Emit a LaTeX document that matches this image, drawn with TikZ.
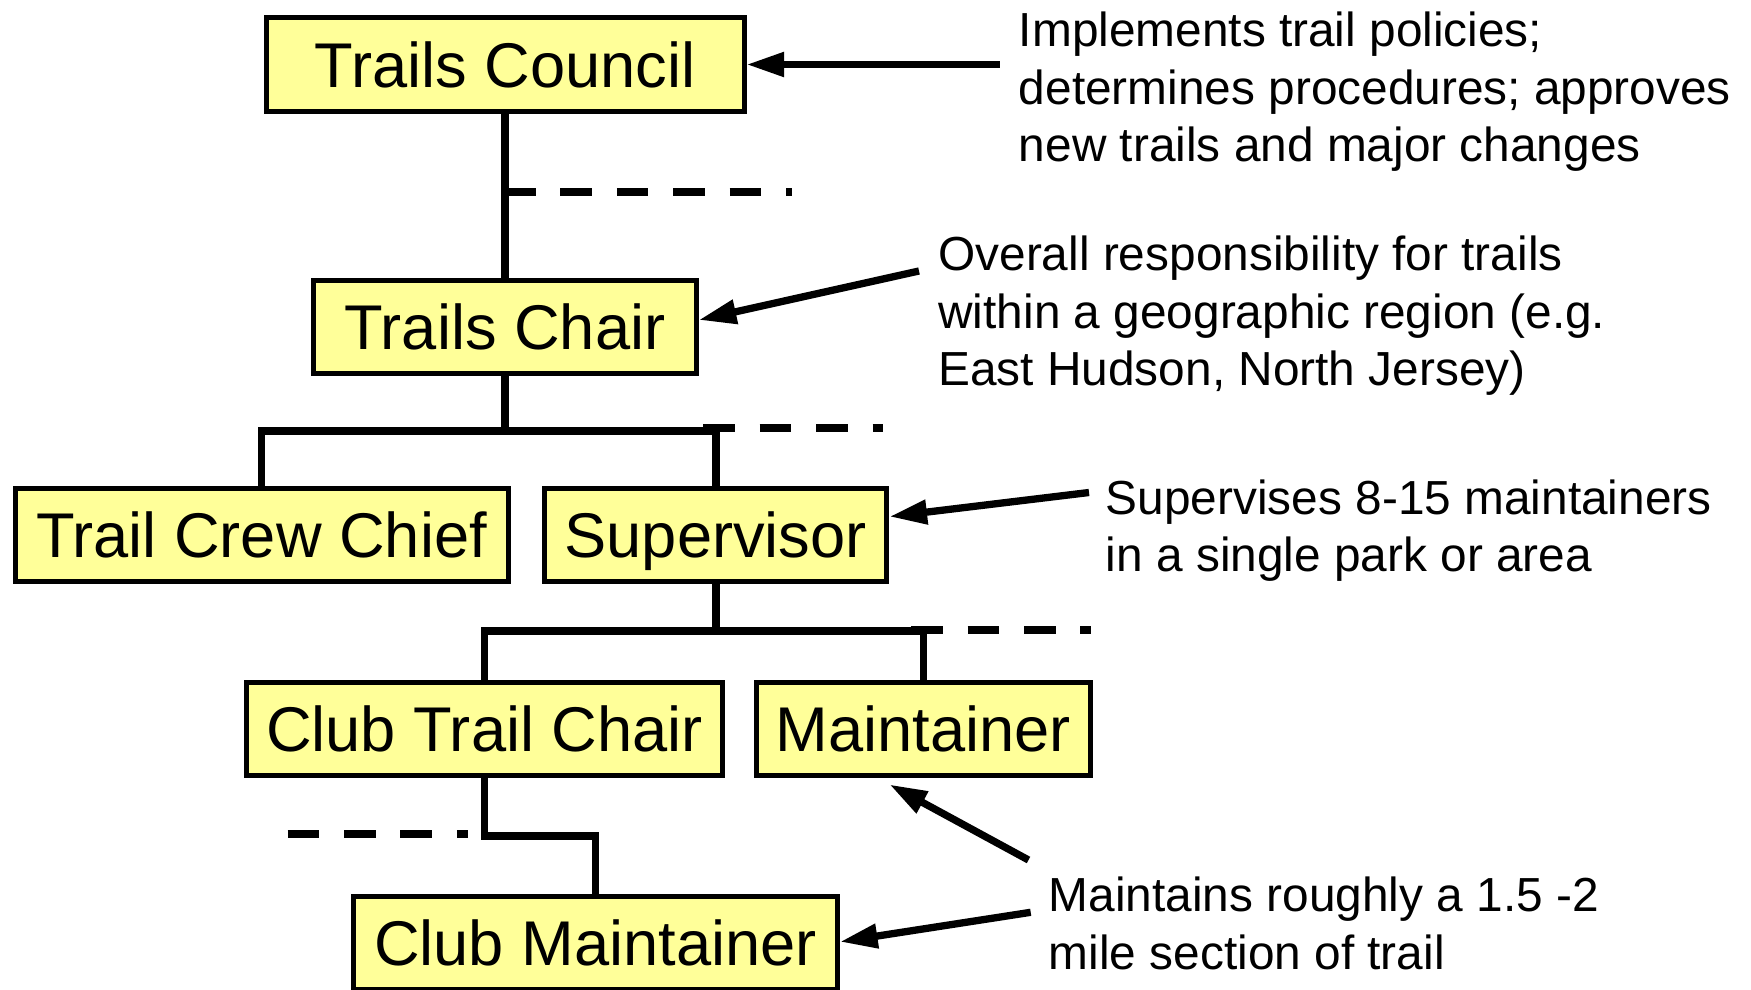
\documentclass[tikz,border=0pt]{standalone}
\usepackage{fontspec}
\setmainfont{Liberation Sans}
\usetikzlibrary{arrows.meta}
\definecolor{boxfill}{HTML}{FFFF99}
\newcommand{\boxfont}{\fontsize{31.6}{38}\selectfont}
\newcommand{\annfont}{\fontsize{23.9}{28.75}\selectfont}
\tikzset{
  orgbox/.style={draw=black, fill=boxfill, line width=2.5pt, inner sep=0pt,
    font=\boxfont, text height=22.6pt, text depth=0pt, minimum height=46.5pt},
  link/.style={line width=3.8pt},
  dotlink/.style={line width=4.25pt, dash pattern=on 15.8pt off 12.4pt},
  callout/.style={line width=3.65pt, -{Triangle[length=18.8pt,width=11.65pt]}},
  ann/.style={anchor=base west, inner sep=0pt, font=\annfont}
}
\begin{document}
\begin{tikzpicture}[x=0.5pt,y=-0.5pt]
\useasboundingbox (0,0) rectangle (1751,990);
% boxes
\node[orgbox, minimum width=239pt, minimum height=47.3pt] (council) at (505,64.5) {Trails Council};
\node[orgbox, minimum width=191.3pt, minimum height=46.85pt] (chair) at (505,327) {Trails Chair};
\node[orgbox, minimum width=246.5pt, minimum height=46.25pt] (crew) at (261.6,535) {Trail Crew Chief};
\node[orgbox, minimum width=171.25pt] (sup) at (715.7,535) {Supervisor};
\node[orgbox, minimum width=237.8pt] (ctc) at (484.5,729) {Club Trail Chair};
\node[orgbox, minimum width=167pt] (maint) at (923.5,729) {Maintainer};
\node[orgbox, minimum width=242pt] (cm) at (595.5,943) {Club Maintainer};
% junctions
\coordinate (bus1) at (505,431);
\coordinate (bus2) at (715.7,631);
\coordinate (j3) at (595.5,836);
% connectors
\draw[link] (council) -- (chair);
\draw[link] (chair) -- (bus1);
\draw[link] (crew.north) |- (bus1) -| (sup.north);
\draw[link] (sup) -- (bus2);
\draw[link] (ctc.north) |- (bus2) -| (maint.north);
\draw[link] (ctc.south) |- (j3) -- (cm.north);
% dashed stubs
\coordinate (d1a) at (504,192); \coordinate (d1b) at (792,192);
\coordinate (d2a) at (703.3,428); \coordinate (d2b) at (883.3,428);
\coordinate (d3a) at (911.2,630); \coordinate (d3b) at (1091,630);
\coordinate (d4a) at (287.6,834); \coordinate (d4b) at (467.7,834);
\draw[dotlink] (d1a) -- (d1b);
\draw[dotlink] (d2a) -- (d2b);
\draw[dotlink] (d3a) -- (d3b);
\draw[dotlink] (d4a) -- (d4b);
% annotations
\node[ann] (t1) at (1018.5,47) {\begin{tabular}[t]{@{}l@{}}Implements trail policies;\\determines procedures; approves\\new trails and major changes\end{tabular}};
\node[ann] (t2) at (938,270.5) {\begin{tabular}[t]{@{}l@{}}Overall responsibility for trails\\within a geographic region (e.g.\\East Hudson, North Jersey)\end{tabular}};
\node[ann] (t3) at (1105.5,514) {\begin{tabular}[t]{@{}l@{}}Supervises 8-15 maintainers\\in a single park or area\end{tabular}};
\node[ann] (t4) at (1048.5,911.5) {\begin{tabular}[t]{@{}l@{}}Maintains roughly a 1.5 -2\\mile section of trail\end{tabular}};
% callout arrows
\coordinate (c1) at (999.5,64.5);
\coordinate (c2) at (919,271);
\coordinate (c3) at (1089,492.5);
\coordinate (c4) at (1028.5,860);
\coordinate (c5) at (1030.7,912.3);
\draw[callout] (c1) -- (council.east);
\draw[callout] (c2) -- ([yshift=3.5pt]chair.east);
\draw[callout] (c3) -- ([yshift=9.2pt]sup.east);
\draw[callout] (c4) -- ([xshift=-17pt,yshift=-3.25pt]maint.south);
\draw[callout] (c5) -- ([yshift=0.6pt]cm.east);
\end{tikzpicture}
\end{document}
